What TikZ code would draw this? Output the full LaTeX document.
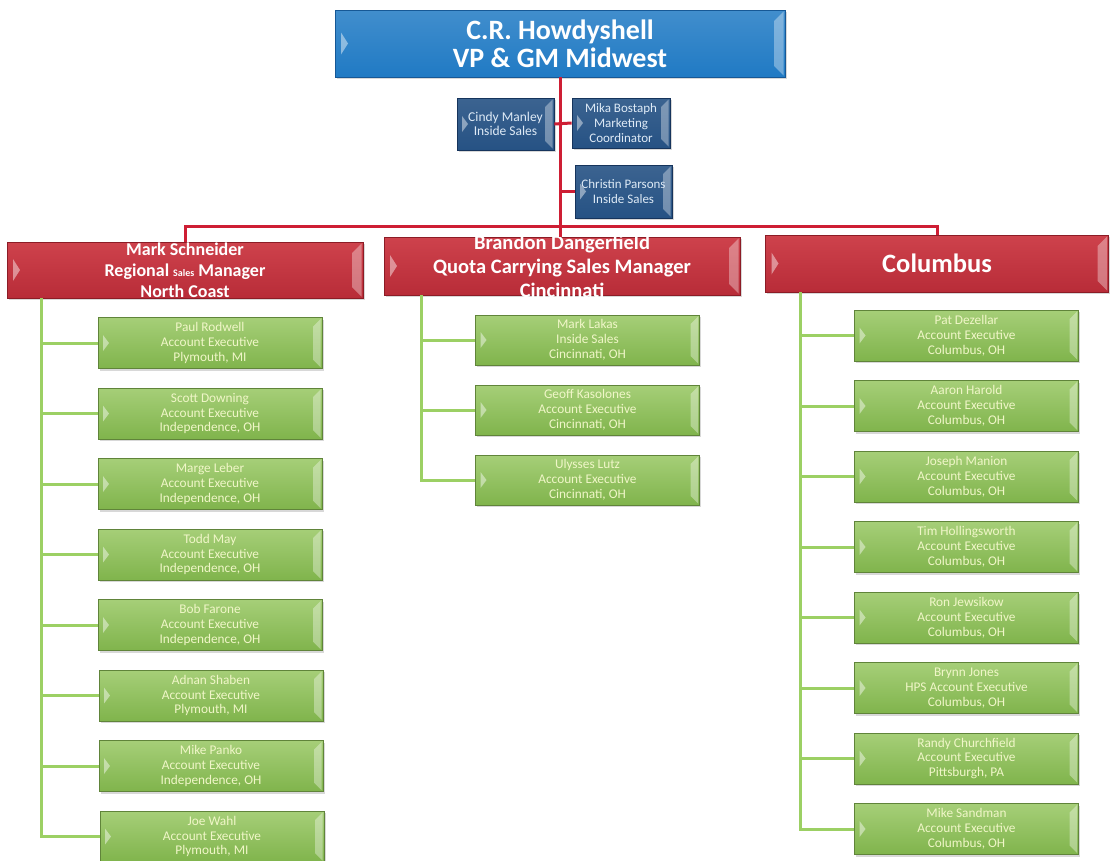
\documentclass[tikz,border=0pt]{standalone}
\usepackage{fontspec}
\setmainfont{Carlito}
\usetikzlibrary{calc,shadows}
\definecolor{topblue}{RGB}{32,122,196}
\definecolor{topblueD}{RGB}{22,88,150}
\definecolor{sblue}{RGB}{38,82,132}
\definecolor{sblueD}{RGB}{22,52,92}
\definecolor{rfill}{RGB}{206,66,76}
\definecolor{rfillD}{RGB}{184,44,56}
\definecolor{rborder}{RGB}{140,28,38}
\definecolor{gfill}{RGB}{150,198,96}
\definecolor{gfillD}{RGB}{128,180,76}
\definecolor{gborder}{RGB}{96,132,58}
\definecolor{gtext}{RGB}{240,246,200}
\definecolor{stext}{RGB}{222,234,246}
\definecolor{rline}{RGB}{206,30,52}
\definecolor{gline}{RGB}{156,208,100}
\begin{document}
\begin{tikzpicture}[x=1pt,y=-1pt,
  bevelS/.style={path picture={
    \fill[white,opacity=0.45] ($(path picture bounding box.west)+(5pt,8pt)$) -- ($(path picture bounding box.west)+(11pt,0pt)$) -- ($(path picture bounding box.west)+(5pt,-8pt)$) -- cycle;
    \fill[white,opacity=0.35] ($(path picture bounding box.north east)+(-1.5pt,-1.5pt)$) -- ($(path picture bounding box.south east)+(-1.5pt,1.5pt)$) -- ($(path picture bounding box.south east)+(-9pt,9pt)$) -- ($(path picture bounding box.north east)+(-9pt,-9pt)$) -- cycle;
  }},
  bevelL/.style={path picture={
    \fill[white,opacity=0.45] ($(path picture bounding box.west)+(6pt,11pt)$) -- ($(path picture bounding box.west)+(13pt,0pt)$) -- ($(path picture bounding box.west)+(6pt,-11pt)$) -- cycle;
    \fill[white,opacity=0.35] ($(path picture bounding box.north east)+(-1.5pt,-1.5pt)$) -- ($(path picture bounding box.south east)+(-1.5pt,1.5pt)$) -- ($(path picture bounding box.south east)+(-11pt,11pt)$) -- ($(path picture bounding box.north east)+(-11pt,-11pt)$) -- cycle;
  }},
  boxbase/.style={rectangle, inner sep=0pt, align=center, line width=0.8pt,
    drop shadow={shadow xshift=1.5pt, shadow yshift=-2pt, opacity=0.3}},
  topbox/.style={boxbase, bevelL, top color=topblue!85!white, bottom color=topblue, draw=topblueD,
    text=white, font=\fontsize{28}{28}\selectfont\bfseries, minimum width=450pt, minimum height=67pt},
  sbox/.style={boxbase, bevelS, top color=sblue!90!white, bottom color=sblue, draw=sblueD,
    text=stext, font=\fontsize{13.5}{14.5}\selectfont},
  rbox/.style={boxbase, bevelL, top color=rfill, bottom color=rfillD, draw=rborder},
  rtext/.style={text=white, align=center, inner sep=0pt},
  gbox/.style={boxbase, bevelS, top color=gfill!85!white, bottom color=gfillD, draw=gborder,
    text=gtext, font=\fontsize{13.3}{14.8}\selectfont, minimum width=224pt, minimum height=51pt},
  redline/.style={draw=rline, line width=3pt},
  greenline/.style={draw=gline, line width=3pt}
]
\useasboundingbox[fill=white] (0,0) rectangle (1110,860);

% top
\node[topbox] (top) at (560,43.5) {C.R. Howdyshell\\VP \& GM Midwest};

% staff
\node[sbox, minimum width=97pt, minimum height=52pt] (cindy) at (505.5,124) {Cindy Manley\\Inside Sales};
\node[sbox, minimum width=98pt, minimum height=50pt, font=\fontsize{13}{15.3}\selectfont] (mika) at (621,123) {Mika Bostaph\\Marketing\\Coordinator};
\node[sbox, minimum width=97pt, minimum height=53pt, font=\fontsize{13}{14.5}\selectfont] (christin) at (623.5,191.5) {Christin Parsons\\Inside Sales};

% managers
\node[rbox, minimum width=356pt, minimum height=56pt,
  label={[rtext, font=\fontsize{18}{21}\selectfont\bfseries]center:{Mark Schneider\\Regional {\fontsize{10}{10}\selectfont Sales} Manager\\North Coast}}] (mark) at (185,270) {};
\node[rbox, minimum width=356pt, minimum height=58pt,
  label={[rtext, font=\fontsize{20.5}{24}\selectfont\bfseries]center:{Brandon Dangerfield\\Quota Carrying Sales Manager\\Cincinnati}}] (brandon) at (562,266) {};
\node[rbox, minimum width=343pt, minimum height=57pt,
  label={[rtext, font=\fontsize{26.5}{28}\selectfont\bfseries]center:{Columbus}}] (columbus) at (937,263.5) {};

% column 1
\node[gbox] (paul)  at (210,343)   {Paul Rodwell\\Account Executive\\Plymouth, MI};
\node[gbox] (scott) at (210,413.5) {Scott Downing\\Account Executive\\Independence, OH};
\node[gbox] (marge) at (210,484)   {Marge Leber\\Account Executive\\Independence, OH};
\node[gbox] (todd)  at (210,554.5) {Todd May\\Account Executive\\Independence, OH};
\node[gbox] (bob)   at (210,625)   {Bob Farone\\Account Executive\\Independence, OH};
\node[gbox] (adnan) at (211,695.5) {Adnan Shaben\\Account Executive\\Plymouth, MI};
\node[gbox] (panko) at (211,766)   {Mike Panko\\Account Executive\\Independence, OH};
\node[gbox] (joe)   at (212,836.5) {Joe Wahl\\Account Executive\\Plymouth, MI};

% column 2
\node[gbox, minimum height=50pt] (lakas)   at (587.5,340) {Mark Lakas\\Inside Sales\\Cincinnati, OH};
\node[gbox, minimum height=50pt] (geoff)   at (587.5,410) {Geoff Kasolones\\Account Executive\\Cincinnati, OH};
\node[gbox, minimum height=50pt] (ulysses) at (587.5,480) {Ulysses Lutz\\Account Executive\\Cincinnati, OH};

% column 3
\node[gbox] (pat)     at (966.5,335.5) {Pat Dezellar\\Account Executive\\Columbus, OH};
\node[gbox] (aaron)   at (966.5,406)   {Aaron Harold\\Account Executive\\Columbus, OH};
\node[gbox] (joseph)  at (966.5,476.5) {Joseph Manion\\Account Executive\\Columbus, OH};
\node[gbox] (tim)     at (966.5,547)   {Tim Hollingsworth\\Account Executive\\Columbus, OH};
\node[gbox] (ron)     at (966.5,617.5) {Ron Jewsikow\\Account Executive\\Columbus, OH};
\node[gbox] (brynn)   at (966.5,688)   {Brynn Jones\\HPS Account Executive\\Columbus, OH};
\node[gbox] (randy)   at (966.5,758.5) {Randy Churchfield\\Account Executive\\Pittsburgh, PA};
\node[gbox] (sandman) at (966.5,829)   {Mike Sandman\\Account Executive\\Columbus, OH};

% red connectors
\coordinate (bar) at (560,226);
\draw[redline] (top.south) -- (top.south |- brandon.north);
\draw[redline] (mark.north) |- (columbus.north |- bar) -- (columbus.north);
\draw[redline] (cindy.east) -- (mika.west);
\draw[redline] (christin.west) -- (christin.west -| top.south);

% green connectors
\coordinate (s1) at ($(mark.south west)+(35,0)$);
\coordinate (s2) at ($(brandon.south west)+(38,0)$);
\coordinate (s3) at ($(columbus.south west)+(35,0)$);
\draw[greenline] (s1) |- (joe.west);
\foreach \b in {paul,scott,marge,todd,bob,adnan,panko}
  \draw[greenline] (s1 |- \b.west) -- (\b.west);
\draw[greenline] (s2) |- (ulysses.west);
\foreach \b in {lakas,geoff}
  \draw[greenline] (s2 |- \b.west) -- (\b.west);
\draw[greenline] (s3) |- (sandman.west);
\foreach \b in {pat,aaron,joseph,tim,ron,brynn,randy}
  \draw[greenline] (s3 |- \b.west) -- (\b.west);
\end{tikzpicture}
\end{document}
